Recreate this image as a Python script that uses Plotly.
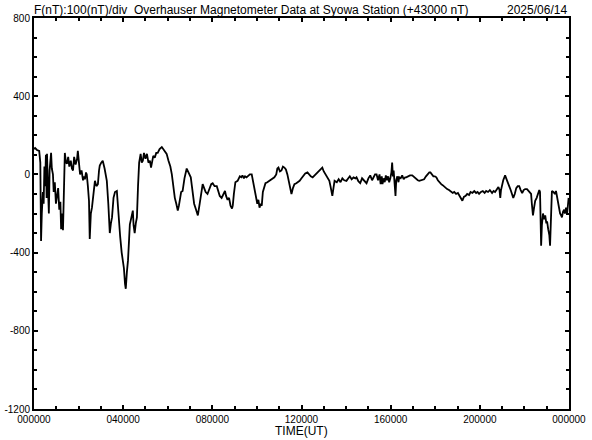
import plotly.graph_objects as go

# time in minutes UT, F variation in nT (relative to +43000 nT)
minutes = [0,3,8,14,17,19,21,24,26,28,30,32,34,35,37,40,42,44,46,48,51,53,56,59,62,65,68,71,73,76,78,80,83,86,89,92,95,99,102,105,108,112,116,118,121,124,128,132,135,137,140,142,145,148,150,153,156,160,164,168,172,175,177,181,185,190,196,200,204,207,210,214,218,223,226,228,232,236,239,242,245,247,250,253,256,258,261,264,266,268,271,274,277,280,283,287,290,293,296,300,304,308,312,315,318,321,325,329,333,338,344,350,357,362,367,371,375,379,383,387,390,392,396,400,405,411,415,419,422,425,427,431,436,441,446,450,454,458,462,467,472,477,481,486,492,496,500,505,510,514,517,521,525,529,533,535,538,542,548,554,558,561,565,568,572,577,581,586,590,594,598,601,604,607,610,613,616,620,623,628,634,640,647,652,655,658,662,666,670,674,678,682,686,690,693,697,701,706,711,715,720,725,730,736,740,745,750,755,760,765,770,776,780,785,790,795,798,801,803,806,809,815,820,825,830,835,841,846,850,855,860,865,868,873,878,883,888,892,895,900,905,910,915,918,922,926,930,933,936,938,941,944,947,950,953,956,959,962,964,966,968,971,973,975,978,981,983,987,991,995,999,1002,1007,1012,1018,1023,1028,1033,1037,1042,1046,1050,1055,1060,1064,1067,1071,1075,1079,1083,1087,1092,1096,1100,1105,1109,1112,1117,1122,1127,1131,1136,1141,1145,1149,1153,1157,1162,1166,1171,1175,1180,1185,1190,1194,1198,1203,1208,1213,1217,1222,1227,1233,1237,1241,1245,1247,1250,1253,1255,1257,1260,1263,1266,1268,1271,1274,1277,1279,1283,1287,1290,1294,1298,1302,1306,1310,1314,1318,1322,1327,1331,1335,1338,1340,1343,1346,1349,1353,1357,1360,1362,1364,1365,1367,1370,1373,1376,1379,1381,1384,1387,1389,1391,1393,1394,1398,1402,1405,1408,1411,1413,1416,1419,1421,1424,1427,1429,1432,1435,1437,1439]
f_nT = [130,135,125,120,60,-340,-200,-90,-150,40,-60,100,-120,105,-30,-200,20,80,110,30,0,-90,-40,-150,-110,-70,-180,-140,-280,-200,-285,-120,110,60,55,90,40,70,30,20,90,50,80,120,30,0,20,-30,-10,-25,10,0,-60,-135,-330,-200,-170,-90,-33,-60,-50,20,45,60,70,30,-33,-150,-300,-250,-220,-120,-90,-85,-170,-255,-320,-400,-440,-480,-560,-585,-500,-440,-330,-255,-230,-190,-185,-260,-300,-250,-220,-60,60,105,60,70,110,80,105,60,70,35,60,95,85,110,110,130,140,125,105,70,40,0,-60,-120,-150,-185,-160,-135,-90,-85,-20,30,10,-10,-15,-60,-100,-150,-180,-210,-150,-90,-50,-70,-90,-100,-70,-50,-45,-60,-60,-80,-110,-120,-100,-85,-110,-130,-120,-160,-175,-160,-100,-40,-33,-10,-15,-5,-20,-10,-15,-5,0,0,-40,-70,-110,-150,-130,-170,-150,-160,-90,-60,-45,-40,-33,-25,-15,0,30,35,15,20,40,35,25,0,-40,-80,-100,-70,-50,-45,-40,-33,-20,-5,5,10,0,-10,-15,-5,5,15,25,35,15,0,-20,-33,-60,-90,-110,-70,-33,-40,-25,-40,-20,-30,-33,-20,-10,-25,-15,-20,-15,-35,-45,-20,-30,-40,-45,-20,-5,-30,-10,0,0,-30,0,-50,-10,-50,-20,-40,-5,-30,-10,-40,-20,10,60,-10,20,-40,-110,-30,-10,-40,-15,-20,-5,-25,-15,-15,-10,-5,-5,-15,-25,-30,-33,-30,-25,-25,-10,0,10,10,0,-10,-10,-15,-30,-45,-50,-55,-65,-70,-75,-80,-90,-95,-90,-100,-95,-110,-120,-135,-115,-110,-100,-105,-90,-95,-85,-95,-90,-100,-90,-85,-95,-85,-90,-80,-95,-85,-90,-80,-70,-65,-80,-120,-80,-50,-30,-15,-5,-20,-40,-50,-60,-80,-100,-120,-100,-70,-60,-60,-80,-95,-80,-75,-75,-85,-95,-100,-150,-210,-170,-135,-120,-100,-80,-90,-200,-365,-260,-200,-230,-210,-250,-240,-280,-310,-365,-200,-120,-85,-90,-100,-85,-120,-150,-175,-200,-210,-220,-190,-180,-200,-170,-200,-150,-120]

x_tickvals = [0, 240, 480, 720, 960, 1200, 1440]
x_ticktext = ["000000", "040000", "080000", "120000", "160000", "200000", "000000"]
y_tickvals = [800, 400, 0, -400, -800, -1200]
y_ticktext = ["800", "400", "0", "-400", "-800", "-1200"]

title_left = "F(nT):100(nT)/div  Overhauser Magnetometer Data at Syowa Station (+43000 nT)"
title_right = "2025/06/14"
x_title = "TIME(UT)"

fig = go.Figure()
fig.add_trace(go.Scatter(x=minutes, y=f_nT, mode="lines",
                         line=dict(color="black", width=1.8), hoverinfo="skip"))

axis_common = dict(showline=True, linecolor="black", linewidth=2, mirror="ticks",
                   ticks="inside", tickcolor="black", tickwidth=2, ticklen=4,
                   showgrid=False, zeroline=False, automargin=False,
                   tickfont=dict(family="Liberation Sans, Arial, sans-serif", size=10, color="black"))

fig.update_xaxes(range=[0, 1440], tickmode="array", tickvals=x_tickvals, ticktext=x_ticktext,
                 minor=dict(dtick=60, tick0=0, ticks="inside", ticklen=3, tickwidth=2, tickcolor="black", showgrid=False),
                 **axis_common)
fig.update_yaxes(range=[-1200, 800], tickmode="array", tickvals=y_tickvals, ticktext=y_ticktext,
                 minor=dict(dtick=100, tick0=0, ticks="inside", ticklen=3, tickwidth=2, tickcolor="black", showgrid=False),
                 ticklabelstandoff=0, **axis_common)

fig.update_layout(
    width=592, height=440,
    margin=dict(l=34, r=23, t=18, b=31),
    paper_bgcolor="white", plot_bgcolor="white",
    showlegend=False,
    font=dict(family="Liberation Sans, Arial, sans-serif", color="black"),
    annotations=[
        dict(text=title_left, xref="paper", yref="paper", x=0, y=1, xanchor="left", yanchor="bottom",
             showarrow=False, font=dict(size=12), yshift=-1, xshift=-2),
        dict(text=title_right, xref="paper", yref="paper", x=1, y=1, xanchor="right", yanchor="bottom",
             showarrow=False, font=dict(size=12), yshift=-1),
        dict(text=x_title, xref="paper", yref="paper", x=0.5, y=0, xanchor="center", yanchor="top",
             showarrow=False, font=dict(size=12), yshift=-13),
    ],
)

fig.write_html("out.html", config={"displayModeBar": False},
               post_script="document.body.style.margin='0';")
